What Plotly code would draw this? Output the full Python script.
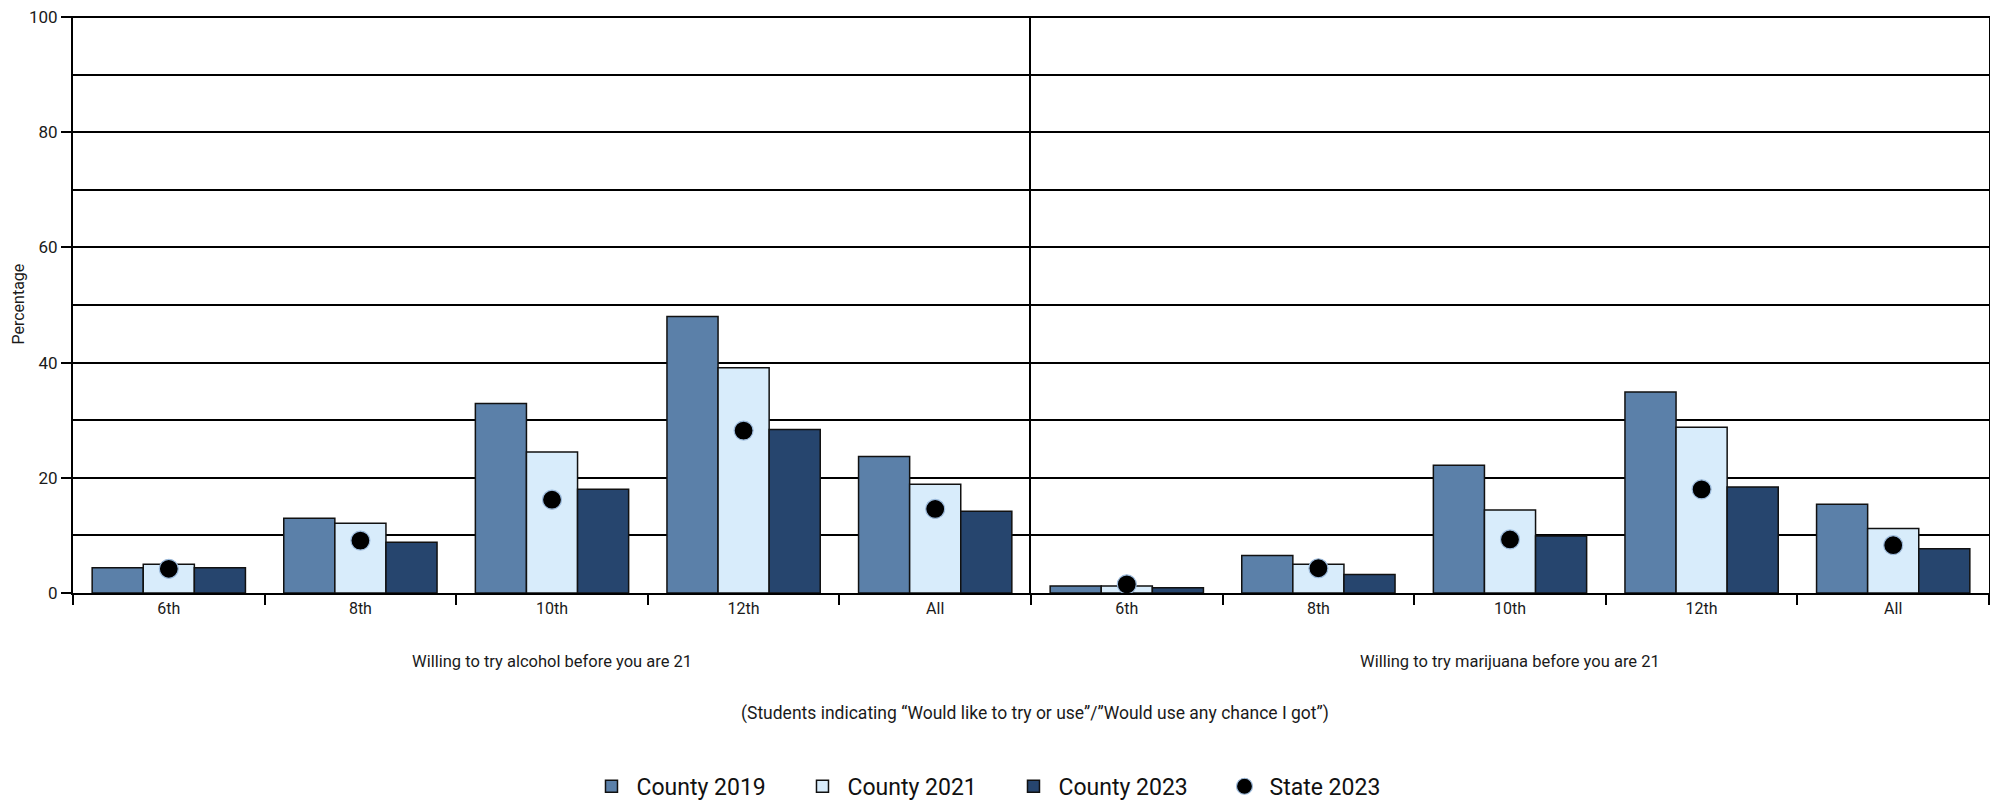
import plotly.graph_objects as go
from plotly.subplots import make_subplots

grades = ["6th", "8th", "10th", "12th", "All"]
panels = ["Willing to try alcohol before you are 21", "Willing to try marijuana before you are 21"]

alcohol_2019 = [4.4, 13.0, 32.9, 48.0, 23.7]
alcohol_2021 = [5.0, 12.1, 24.5, 39.1, 18.9]
alcohol_2023 = [4.4, 8.8, 18.0, 28.4, 14.2]
alcohol_state = [4.2, 9.1, 16.2, 28.2, 14.6]

marijuana_2019 = [1.2, 6.5, 22.2, 34.9, 15.4]
marijuana_2021 = [1.2, 5.0, 14.4, 28.8, 11.2]
marijuana_2023 = [0.9, 3.2, 9.9, 18.4, 7.7]
marijuana_state = [1.5, 4.3, 9.3, 18.0, 8.3]

series_names = ["County 2019", "County 2021", "County 2023", "State 2023"]
colors = ["#5b80a9", "#d8ecfb", "#26456e"]

FONT = "Roboto, Liberation Sans, sans-serif"

fig = make_subplots(rows=1, cols=2, shared_yaxes=False, horizontal_spacing=0)

panel_data = [
    (alcohol_2019, alcohol_2021, alcohol_2023, alcohol_state),
    (marijuana_2019, marijuana_2021, marijuana_2023, marijuana_state),
]

for ci, (s19, s21, s23, st) in enumerate(panel_data, start=1):
    for si, vals in enumerate([s19, s21, s23]):
        fig.add_trace(
            go.Bar(
                x=grades, y=vals, name=series_names[si],
                marker=dict(color=colors[si], line=dict(color="#111111", width=1.5)),
                showlegend=(ci == 1), legendgroup=series_names[si],
            ),
            row=1, col=ci,
        )
    fig.add_trace(
        go.Scatter(
            x=grades, y=st, name=series_names[3], mode="markers",
            marker=dict(color="black", size=19, line=dict(color="#9dbbdc", width=1.2)),
            showlegend=(ci == 1), legendgroup=series_names[3],
        ),
        row=1, col=ci,
    )

fig.update_layout(
    width=1990, height=801,
    margin=dict(l=73, r=1, t=16, b=208, autoexpand=False),
    paper_bgcolor="white", plot_bgcolor="white",
    barmode="group", bargap=0.2, bargroupgap=0,
    font=dict(family=FONT, color="#1a1a1a", size=16),
    legend=dict(
        orientation="h", x=0.268, xanchor="left", y=-0.335, yanchor="middle",
        font=dict(size=23, family=FONT, color="#111111"),
        itemwidth=40, entrywidth=156, entrywidthmode="pixels", tracegroupgap=0,
    ),
)

for ci in (1, 2):
    fig.update_xaxes(
        row=1, col=ci, automargin=False,
        showline=True, linecolor="black", linewidth=2,
        ticks="outside", tickson="boundaries", ticklen=10, tickcolor="black", tickwidth=1.5,
        showgrid=False, tickfont=dict(size=16, family=FONT),
    )
    fig.update_yaxes(
        row=1, col=ci, automargin=False,
        range=[0, 100.2], dtick=20, tick0=0,
        showline=True, mirror=(ci == 2), linecolor="black", linewidth=2,
        showgrid=True, gridcolor="black", gridwidth=1.5,
        minor=dict(dtick=10, showgrid=True, gridcolor="black", gridwidth=1.5),
        zeroline=False,
        ticks="outside" if ci == 1 else "", ticklen=10, tickcolor="black", tickwidth=1.5,
        showticklabels=(ci == 1), tickfont=dict(size=17, family=FONT),
    )

fig.add_annotation(
    text="Percentage", textangle=-90, xref="paper", x=-0.0287, xanchor="center",
    yref="paper", y=0.5, yanchor="middle", showarrow=False,
    font=dict(size=16, family=FONT, color="#1a1a1a"),
)

for ci, label in enumerate(panels):
    fig.add_annotation(
        text=label, xref=("x domain" if ci == 0 else "x2 domain"), x=0.5,
        yref="paper", y=-0.118, yanchor="middle", showarrow=False,
        font=dict(size=16.5, family=FONT, color="#1a1a1a"),
    )

fig.add_annotation(
    text="(Students indicating \u201cWould like to try or use\u201d/\u201dWould use any chance I got\u201d)",
    xref="paper", x=0.502, yref="paper", y=-0.2085, yanchor="middle", showarrow=False,
    font=dict(size=17.5, family=FONT, color="#1a1a1a"),
)

fig.write_html(
    "out.html",
    config={"displayModeBar": False},
    post_script="document.body.style.margin='0';document.body.style.overflow='hidden';",
)
